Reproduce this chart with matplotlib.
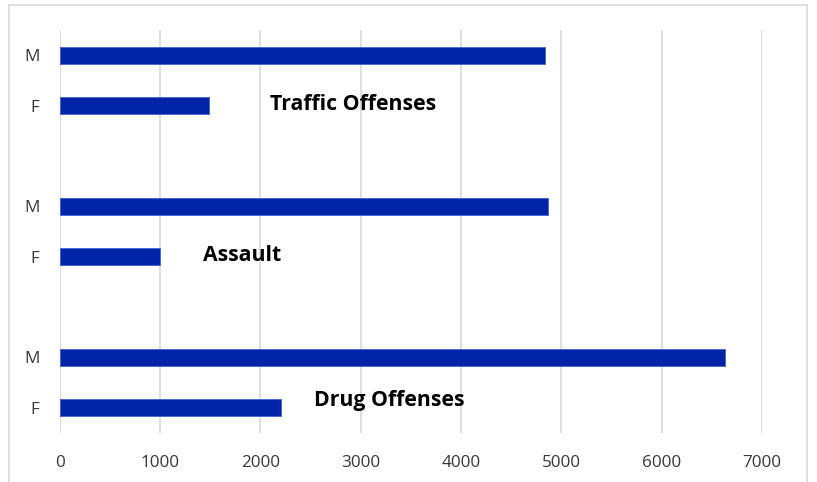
import matplotlib.pyplot as plt
from matplotlib.patches import Rectangle

# arrest counts by sex for each offense group (top to bottom)
offenses = ["Traffic Offenses", "Assault", "Drug Offenses"]
male = [4840, 4870, 6630]
female = [1490, 1000, 2210]
sex_labels = ["M", "F"]
x_ticks = [0, 1000, 2000, 3000, 4000, 5000, 6000, 7000]

plt.rcParams['font.family'] = ['Open Sans', 'DejaVu Sans']

fig = plt.figure(figsize=(8.17, 4.82), dpi=100)
fig.patches.append(Rectangle((9 / 817, -0.05), 798 / 817, 1.05 - 5 / 482,
                             transform=fig.transFigure, fill=False,
                             edgecolor='#d9d9d9', linewidth=1.2))
ax = fig.add_axes([59.5 / 817, 1 - 433 / 482, 702.5 / 817, 403 / 482])

bar_color = '#0024a8'
ypos, vals, ylabels = [], [], []
for i, name in enumerate(offenses):
    base = i * 3
    ypos += [base, base + 1]
    vals += [male[i], female[i]]
    ylabels += sex_labels

ax.barh(ypos, vals, height=0.34, color=bar_color, edgecolor='#3f63d6',
        linewidth=0.6, zorder=3)

# group names placed beside the F bars
label_x = [2100, 1430, 2540]
for i, name in enumerate(offenses):
    ax.text(label_x[i], i * 3 + 0.97 - 0.12 * (i == 2), name, fontsize=15.3,
            fontweight='bold', color='black', va='center', ha='left', zorder=4)

ax.set_ylim(7.5, -0.5)
ax.set_xlim(0, 7000)
ax.set_xticks(x_ticks)
ax.set_yticks(ypos)
ax.set_yticklabels(ylabels)
ax.tick_params(axis='both', length=0, labelsize=12.3, labelcolor='#383838')
ax.tick_params(axis='y', pad=14.5)
ax.tick_params(axis='x', pad=16)
ax.grid(axis='x', color='#d9d9d9', linewidth=1.2, zorder=0)
for s in ax.spines.values():
    s.set_visible(False)

fig.savefig('out.png', dpi=100)
